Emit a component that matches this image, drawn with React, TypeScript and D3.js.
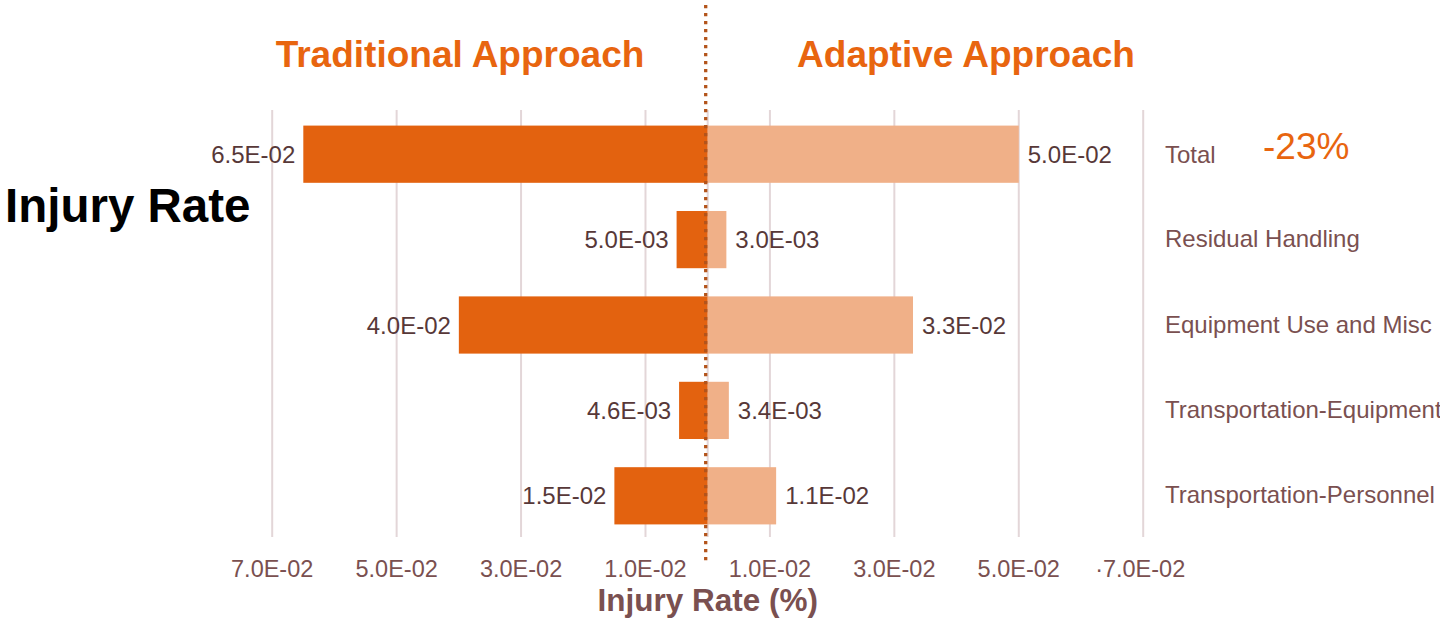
import React from "react";
import * as d3 from "d3";

// Injury rate by activity, traditional vs adaptive approach
const categories = [
  "Total",
  "Residual Handling",
  "Equipment Use and Misc",
  "Transportation-Equipment",
  "Transportation-Personnel",
];
const traditional = [0.065, 0.005, 0.04, 0.0046, 0.015];
const adaptive = [0.05, 0.003, 0.033, 0.0034, 0.011];
const traditionalLabels = ["6.5E-02", "5.0E-03", "4.0E-02", "4.6E-03", "1.5E-02"];
const adaptiveLabels = ["5.0E-02", "3.0E-03", "3.3E-02", "3.4E-03", "1.1E-02"];
const gridValues = [-0.07, -0.05, -0.03, -0.01, 0, 0.01, 0.03, 0.05, 0.07];
const tickValues = [-0.07, -0.05, -0.03, -0.01, 0.01, 0.03, 0.05, 0.07];
const tickLabels = ["7.0E-02", "5.0E-02", "3.0E-02", "1.0E-02", "1.0E-02", "3.0E-02", "5.0E-02", "·7.0E-02"];
const changeLabel = "-23%";

const FONT = "'Liberation Sans', Arial, sans-serif";
const ORANGE = "#e3620f";
const PEACH = "#f0b088";
const TITLE = "#e8650f";
const VALUE_TEXT = "#573838";
const AXIS_TEXT = "#7a5050";
const GRID = "#e3d6d8";

export default function App() {
  const width = 1440;
  const height = 620;

  const x = d3.scaleLinear().domain([-0.07, 0.07]).range([272.2, 1143.2]);
  const y = d3
    .scaleBand<string>()
    .domain(categories)
    .range([111.5, 538.5])
    .paddingInner(0.33)
    .paddingOuter(0.165);

  const x0 = x(0);
  const bw = y.bandwidth();
  const gridTop = 110;
  const gridBottom = 537;

  return (
    <svg
      width={width}
      height={height}
      style={{ position: "absolute", left: 0, top: 0, background: "#fff" }}
      fontFamily={FONT}
    >
      {/* vertical grid */}
      {gridValues.map((v, i) => (
        <line
          key={"g" + i}
          x1={x(v)}
          x2={x(v)}
          y1={gridTop}
          y2={gridBottom}
          stroke={GRID}
          strokeWidth={2}
        />
      ))}

      {/* bars */}
      {categories.map((c, i) => {
        const top = y(c)!;
        const cy = top + bw / 2;
        const xl = x(-traditional[i]);
        const xr = x(adaptive[i]);
        return (
          <g key={c}>
            <rect x={xl} y={top} width={x0 - xl} height={bw} fill={ORANGE} />
            <rect x={x0} y={top} width={xr - x0} height={bw} fill={PEACH} />
            <text
              x={xl - 8}
              y={cy + 8.5}
              textAnchor="end"
              fontSize={24}
              fill={VALUE_TEXT}
            >
              {traditionalLabels[i]}
            </text>
            <text x={xr + 9} y={cy + 8.5} fontSize={24} fill={VALUE_TEXT}>
              {adaptiveLabels[i]}
            </text>
            <text x={1165} y={cy + (i === 0 ? 9 : 7.5)} fontSize={24} fill={AXIS_TEXT}>
              {c}
            </text>
          </g>
        );
      })}

      {/* centre divider */}
      <line
        x1={x0 - 2}
        x2={x0 - 2}
        y1={5}
        y2={562}
        stroke="#b3541b"
        strokeWidth={3.3}
        strokeDasharray="3.3,4.7"
      />

      {/* panel titles */}
      <text
        x={460}
        y={67}
        textAnchor="middle"
        fontSize={37}
        fontWeight="bold"
        fill={TITLE}
      >
        Traditional Approach
      </text>
      <text
        x={966}
        y={67}
        textAnchor="middle"
        fontSize={37}
        fontWeight="bold"
        fill={TITLE}
      >
        Adaptive Approach
      </text>

      <text x={1263} y={159} fontSize={37} fill={TITLE}>
        {changeLabel}
      </text>

      <text x={5} y={222} fontSize={47.5} fontWeight="bold" fill="#000">
        Injury Rate
      </text>

      {/* x axis tick labels */}
      {tickValues.map((v, i) => (
        <text
          key={"t" + i}
          x={x(v) + (i === tickValues.length - 1 ? -3 : 0)}
          y={577}
          textAnchor="middle"
          fontSize={23.5}
          fill={AXIS_TEXT}
        >
          {tickLabels[i]}
        </text>
      ))}

      <text
        x={x0}
        y={611}
        textAnchor="middle"
        fontSize={31.5}
        fontWeight="bold"
        fill={AXIS_TEXT}
      >
        Injury Rate (%)
      </text>
    </svg>
  );
}
